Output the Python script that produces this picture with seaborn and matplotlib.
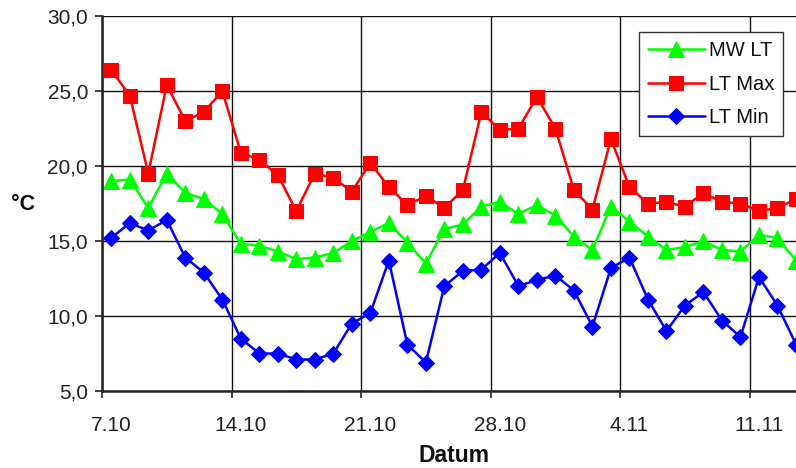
import matplotlib
matplotlib.use("Agg")
import matplotlib.pyplot as plt
import seaborn as sns
import numpy as np
import pandas as pd

dates = ["7.10", "8.10", "9.10", "10.10", "11.10", "12.10", "13.10",
         "14.10", "15.10", "16.10", "17.10", "18.10", "19.10", "20.10",
         "21.10", "22.10", "23.10", "24.10", "25.10", "26.10", "27.10",
         "28.10", "29.10", "30.10", "31.10", "1.11", "2.11", "3.11",
         "4.11", "5.11", "6.11", "7.11", "8.11", "9.11", "10.11",
         "11.11", "12.11", "13.11"]

mw_lt = [19.0, 19.1, 17.2, 19.5, 18.2, 17.8, 16.8,
         14.8, 14.7, 14.3, 13.8, 13.9, 14.2, 15.0,
         15.6, 16.2, 14.9, 13.5, 15.8, 16.1, 17.3,
         17.6, 16.8, 17.4, 16.7, 15.3, 14.4, 17.3,
         16.3, 15.3, 14.4, 14.6, 15.0, 14.4, 14.3,
         15.4, 15.2, 13.7]

lt_max = [26.4, 24.7, 19.5, 25.4, 23.0, 23.6, 25.0,
          20.9, 20.4, 19.4, 17.0, 19.5, 19.2, 18.3,
          20.2, 18.6, 17.4, 18.0, 17.2, 18.4, 23.6,
          22.4, 22.5, 24.6, 22.5, 18.4, 17.1, 21.8,
          18.6, 17.5, 17.6, 17.3, 18.2, 17.6, 17.5,
          17.0, 17.2, 17.8]

lt_min = [15.2, 16.2, 15.7, 16.4, 13.9, 12.9, 11.1,
          8.5, 7.5, 7.5, 7.1, 7.1, 7.5, 9.5,
          10.2, 13.7, 8.1, 6.9, 12.0, 13.0, 13.1,
          14.2, 12.0, 12.4, 12.7, 11.7, 9.3, 13.2,
          13.9, 11.1, 9.0, 10.7, 11.6, 9.7, 8.6,
          12.6, 10.7, 8.1]

tick_labels = ["7.10", "14.10", "21.10", "28.10", "4.11", "11.11"]
y_ticks = [5, 10, 15, 20, 25, 30]

sns.set_style("white")
plt.rcParams["font.family"] = ["Liberation Sans", "DejaVu Sans"]

df = pd.DataFrame({"day": np.arange(len(dates)) + 0.5,
                   "MW LT": mw_lt, "LT Max": lt_max, "LT Min": lt_min})

fig = plt.figure(figsize=(7.96, 4.68), dpi=100)
ax = fig.add_axes([102 / 796, 77 / 468, 694 / 796, 375 / 468])

series = [("MW LT", "#00FF00", "^", 11),
          ("LT Max", "#FF0000", "s", 10.5),
          ("LT Min", "#0000FF", "D", 8.5)]
for name, col, mk, ms in series:
    sns.lineplot(data=df, x="day", y=name, ax=ax, color=col, marker=mk,
                 markersize=ms, markeredgecolor=col, linewidth=1.8,
                 label=name, clip_on=True, zorder=3)

ax.set_xlim(0, 37.5)
ax.set_ylim(5, 30)

# gridlines at day boundaries (major), labels at point centers (minor)
major = [dates.index(t) for t in tick_labels]
ax.set_xticks(major)
ax.set_xticklabels([""] * len(major))
ax.set_xticks([m + 0.5 for m in major], minor=True)
ax.set_xticklabels(tick_labels, minor=True)
ax.tick_params(axis="x", which="major", direction="out", length=5, width=1.2,
               color="#222222", bottom=True)
ax.tick_params(axis="x", which="minor", length=0, pad=18, labelsize=15,
               labelcolor="#222222", bottom=True)

ax.set_yticks(y_ticks)
ax.set_yticklabels([f"{v:.1f}".replace(".", ",") for v in y_ticks])
ax.tick_params(axis="y", direction="out", length=5, width=1.2, pad=5,
               labelsize=15, labelcolor="#222222", color="#222222", left=True)

ax.grid(True, which="major", axis="both", color="#111111", linewidth=1.0)
ax.set_axisbelow(True)

for s in ["top", "right"]:
    ax.spines[s].set_visible(False)
for s in ["left", "bottom"]:
    ax.spines[s].set_color("#222222")
    ax.spines[s].set_linewidth(1.8)
    ax.spines[s].set_zorder(4)

ax.set_xlabel("")
ax.set_ylabel("")
fig.text(23 / 796, 1 - 204 / 468, "°C", fontsize=15.5, fontweight="bold",
         ha="center", va="center", color="#111111")
fig.text(454 / 796, 1 - 455 / 468, "Datum", fontsize=16.5, fontweight="bold",
         ha="center", va="center", color="#111111")

leg = ax.legend(loc="upper right", bbox_to_anchor=(783 / 796, 1 - 32 / 468),
                bbox_transform=fig.transFigure, borderaxespad=0,
                fontsize=14.5, frameon=True, fancybox=False, framealpha=1,
                edgecolor="#333333", handlelength=2.8, handletextpad=0.2,
                labelspacing=0.72, borderpad=0.45)
leg.get_frame().set_linewidth(1.0)
for t in leg.get_texts():
    t.set_color("#111111")

fig.savefig("out.png", dpi=100)
